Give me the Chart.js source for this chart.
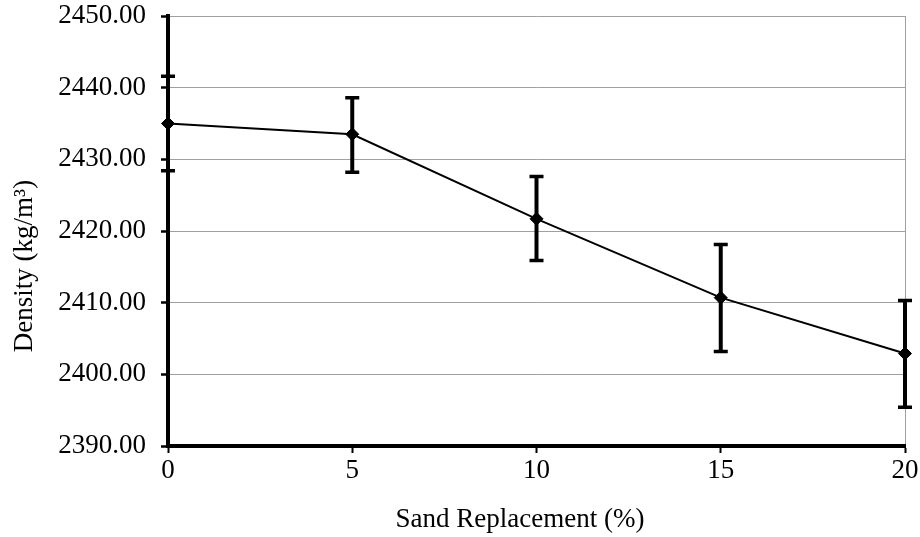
<!DOCTYPE html>
<html>
<head>
<meta charset="utf-8">
<script src="https://cdn.jsdelivr.net/npm/chart.js@4/dist/chart.umd.min.js"></script>
<style>
  html, body { margin: 0; padding: 0; background: #fff; }
  #wrap { width: 920px; height: 537px; position: relative; }
</style>
</head>
<body>
<div id="wrap"><canvas id="c" width="920" height="537"></canvas></div>
<script>
// ---- data ----
const sandReplacement = [0, 5, 10, 15, 20];
const density = [2435.0, 2433.5, 2421.7, 2410.7, 2402.9];
const densityLow = [2428.4, 2428.2, 2415.9, 2403.2, 2395.4];
const densityHigh = [2441.6, 2438.6, 2427.6, 2418.1, 2410.3];
const yTickValues = [2390, 2400, 2410, 2420, 2430, 2440, 2450];
const xTitle = 'Sand Replacement (%)';
const yTitle = 'Density (kg/m\u00B3)';

const FONT = '"Liberation Serif", "Times New Roman", serif';
const FS = 27;

const errorBars = {
  id: 'errorBars',
  afterDatasetsDraw(chart) {
    const ctx = chart.ctx;
    const xs = chart.scales.x, ys = chart.scales.y;
    ctx.save();
    ctx.strokeStyle = '#000';
    sandReplacement.forEach((xv, i) => {
      const px = xs.getPixelForValue(xv);
      const pLo = ys.getPixelForValue(densityLow[i]);
      const pHi = ys.getPixelForValue(densityHigh[i]);
      ctx.lineWidth = 4;
      ctx.beginPath();
      ctx.moveTo(px, pLo);
      ctx.lineTo(px, pHi);
      ctx.stroke();
      ctx.lineWidth = 3.5;
      ctx.beginPath();
      ctx.moveTo(px - 7, pLo); ctx.lineTo(px + 7, pLo);
      ctx.moveTo(px - 7, pHi); ctx.lineTo(px + 7, pHi);
      ctx.stroke();
    });
    ctx.restore();
  }
};

// axis titles, placed where the reference has them (slightly off-centre)
const axisTitles = {
  id: 'axisTitles',
  afterDraw(chart) {
    const ctx = chart.ctx;
    ctx.save();
    ctx.fillStyle = '#000';
    ctx.font = FS + 'px ' + FONT;
    ctx.textAlign = 'center';
    ctx.textBaseline = 'middle';
    ctx.fillText(xTitle, 520, 520);
    ctx.translate(25, 266);
    ctx.rotate(-Math.PI / 2);
    ctx.fillText(yTitle, 0, 0);
    ctx.restore();
  }
};

new Chart(document.getElementById('c'), {
  type: 'line',
  data: {
    datasets: [{
      data: sandReplacement.map((x, i) => ({ x: x, y: density[i] })),
      borderColor: '#000',
      backgroundColor: '#000',
      borderWidth: 2,
      pointStyle: 'rectRot',
      pointRadius: 6.5,
      pointBorderWidth: 1,
      pointBackgroundColor: '#000',
      pointBorderColor: '#000',
      tension: 0,
      clip: false
    }]
  },
  options: {
    responsive: false,
    animation: false,
    devicePixelRatio: 1,
    layout: { padding: { top: 16, right: 15, left: 0, bottom: 0 } },
    plugins: { legend: { display: false }, tooltip: { enabled: false } },
    scales: {
      x: {
        type: 'linear',
        min: 0, max: 20,
        afterFit: s => { s.height = 91; s.paddingLeft = 0; s.paddingRight = 0; },
        ticks: {
          stepSize: 5,
          color: '#000',
          padding: 2,
          font: { family: FONT, size: FS }
        },
        grid: {
          color: c => (c.tick && c.tick.value === 20) ? '#a0a0a0' : 'rgba(0,0,0,0)',
          lineWidth: 1,
          tickColor: '#000',
          tickLength: 7,
          tickWidth: 2
        },
        border: { color: '#000', width: 4 }
      },
      y: {
        min: 2390, max: 2450,
        afterFit: s => { s.width = 168; s.paddingTop = 0; s.paddingBottom = 0; },
        afterBuildTicks: s => { s.ticks = yTickValues.map(v => ({ value: v })); },
        ticks: {
          color: '#000',
          padding: 15,
          font: { family: FONT, size: FS },
          callback: v => Number(v).toFixed(2)
        },
        grid: {
          color: '#a0a0a0',
          lineWidth: 1,
          tickColor: '#000',
          tickLength: 7,
          tickWidth: 2.5
        },
        border: { color: '#000', width: 4 }
      }
    }
  },
  plugins: [errorBars, axisTitles]
});
</script>
</body>
</html>
